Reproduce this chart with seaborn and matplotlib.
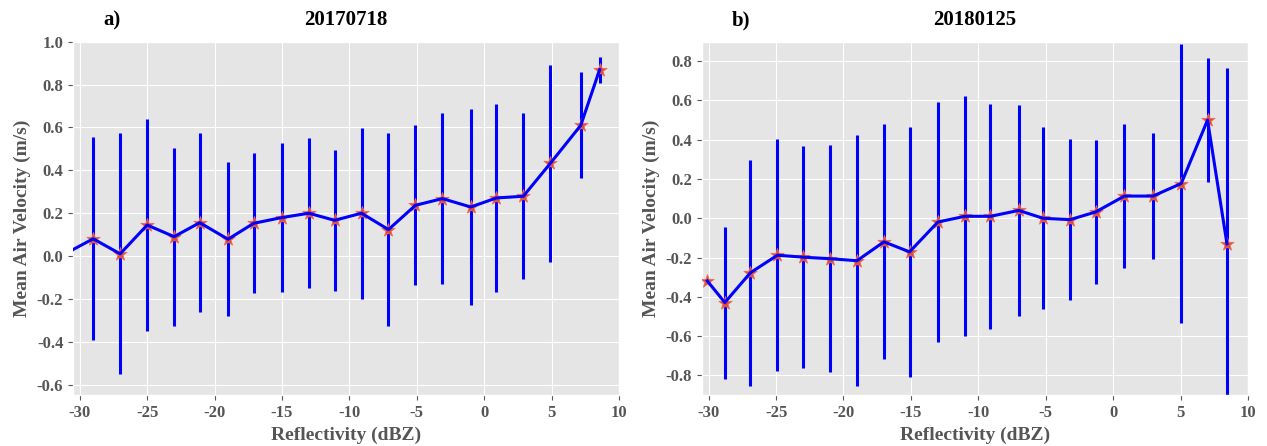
import numpy as np
import pandas as pd
import matplotlib
matplotlib.use('Agg')
import matplotlib.pyplot as plt
import seaborn as sns

# --- datos ---
TITULOS = ['20170718', '20180125']
ETIQUETAS = ['a)', 'b)']

# 20170718
refl_a = [-31.0, -29.0, -27.0, -25.0, -23.0, -21.1, -19.0, -17.1, -15.0, -13.0, -11.1,
          -9.1, -7.1, -5.1, -3.1, -1.0, 0.9, 2.9, 4.9, 7.16, 8.56]
media_a = [0.015, 0.082, 0.012, 0.146, 0.092, 0.157, 0.080, 0.154, 0.181, 0.201, 0.168,
           0.201, 0.125, 0.238, 0.269, 0.230, 0.272, 0.280, 0.433, 0.610, 0.869]
std_a = [0.45, 0.473, 0.560, 0.492, 0.414, 0.416, 0.358, 0.325, 0.347, 0.350, 0.327,
         0.397, 0.448, 0.372, 0.397, 0.456, 0.439, 0.387, 0.460, 0.246, 0.060]

# 20180125
refl_b = [-30.1, -28.8, -26.9, -24.9, -23.0, -21.0, -19.0, -17.0, -15.1, -13.0, -11.0,
          -9.1, -7.0, -5.2, -3.2, -1.3, 0.83, 2.95, 5.05, 7.0, 8.44]
media_b = [-0.319, -0.429, -0.277, -0.188, -0.198, -0.206, -0.216, -0.120, -0.171, -0.019, 0.010,
           0.010, 0.040, 0.000, -0.007, 0.032, 0.113, 0.113, 0.177, 0.500, -0.130]
std_b = [np.nan, 0.387, 0.576, 0.591, 0.564, 0.577, 0.638, 0.599, 0.638, 0.610, 0.612,
         0.574, 0.538, 0.464, 0.410, 0.367, 0.367, 0.320, 0.711, 0.315, 0.894]

LIMITES_Y = [(-0.645, 1.0), (-0.9, 0.9)]
# ---------------------------------

plt.style.use('ggplot')
plt.rcParams['font.family'] = ['Liberation Serif', 'DejaVu Serif']
plt.rcParams['font.weight'] = 'bold'
plt.rcParams['axes.labelweight'] = 'bold'
plt.rcParams['axes.titleweight'] = 'bold'
plt.rcParams['axes.unicode_minus'] = False

fig = plt.figure(figsize=(12.67, 4.46), dpi=100)
ax1 = fig.add_axes([0.0576, 0.1143, 0.431, 0.7926])
ax2 = fig.add_axes([0.554, 0.1143, 0.431, 0.7926])

datos = [(refl_a, media_a, std_a), (refl_b, media_b, std_b)]

for i, ax in enumerate([ax1, ax2]):
    x, m, s = datos[i]
    df = pd.DataFrame({'refl': x, 'media': m, 'std': s})
    df['bajo'] = df['media'] - df['std']
    df['alto'] = df['media'] + df['std']

    ax.vlines(df['refl'], df['bajo'], df['alto'], colors='blue', linewidth=2.2, zorder=2)
    sns.scatterplot(data=df, x='refl', y='media', marker='*', s=100, color='#e24a33',
                    edgecolor='#ee6a55', linewidth=0.6, ax=ax, zorder=3)
    sns.lineplot(data=df, x='refl', y='media', sort=False, estimator=None, color='blue',
                 linewidth=2.2, ax=ax, zorder=4)

    ax.set_xlim(-30.5, 10)
    ax.set_xticks(np.arange(-30, 11, 5))
    ax.set_yticks(np.round(np.arange(-0.8, 1.01, 0.2), 1))
    ax.set_ylim(*LIMITES_Y[i])
    ax.tick_params(labelsize=12, colors='#555555')
    for lab in ax.get_xticklabels() + ax.get_yticklabels():
        lab.set_fontweight('bold')
    ax.set_xlabel('Reflectivity (dBZ)', fontsize=14, color='#555555')
    ax.set_ylabel('Mean Air Velocity (m/s)', fontsize=14, color='#555555')
    ax.set_title(TITULOS[i], fontsize=15, color='black', pad=12)
    ax.text(0.055, 1.045, ETIQUETAS[i], transform=ax.transAxes, fontsize=15,
            fontweight='bold', color='black')

fig.savefig('out.png', dpi=100)
